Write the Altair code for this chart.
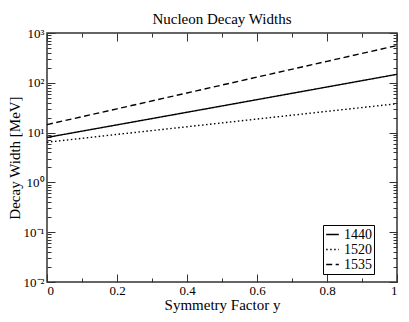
import altair as alt
import pandas as pd

# Data
sym_factor = [0.0, 0.2, 0.4, 0.6, 0.8, 1.0]
width_1440 = [8.0, 14.3, 25.6, 45.9, 82.4, 148.0]
width_1520 = [6.4, 9.2, 13.1, 18.7, 26.7, 38.0]
width_1535 = [14.5, 30.0, 62.5, 130.0, 270.0, 560.0]
series_names = ["1440", "1520", "1535"]

x_major = [0.0, 0.2, 0.4, 0.6, 0.8, 1.0]
x_minor = [0.1, 0.3, 0.5, 0.7, 0.9]
y_major = [0.01, 0.1, 1, 10, 100, 1000]
y_minor = [m * 10.0 ** k for k in range(-2, 3) for m in range(2, 10)]

rows = []
for name, vals in zip(series_names, [width_1440, width_1520, width_1535]):
    for s, v in zip(sym_factor, vals):
        rows.append({"sym": s, "width": v, "state": name})
df = pd.DataFrame(rows)

W, H = 350, 249
FONT = "Liberation Serif"
AX = "#333333"

xscale = alt.Scale(domain=[0, 1], nice=False, zero=False)
yscale = alt.Scale(type="log", domain=[0.01, 1000], nice=False)

ylabel = ("datum.value >= 999 ? '10³' : datum.value >= 99 ? '10²' : "
          "datum.value >= 9 ? '10¹' : datum.value >= 0.9 ? '10⁰' : "
          "datum.value >= 0.09 ? '10⁻¹' : '10⁻²'")

lines = alt.Chart(df).mark_line(color="black", strokeWidth=1.4).encode(
    x=alt.X("sym:Q", scale=xscale,
            axis=alt.Axis(orient="bottom", values=x_major, format="~g", tickSize=0,
                          labelFont=FONT, labelFontSize=13, labelColor="black",
                          labelPadding=2, domain=False, grid=False,
                          title="Symmetry Factor y", titleFont=FONT, titleFontSize=15,
                          titleFontWeight="normal", titleColor="black",
                          titleY=15, titleBaseline="top")),
    y=alt.Y("width:Q", scale=yscale,
            axis=alt.Axis(orient="left", values=y_major, labelExpr=ylabel, tickSize=0,
                          labelFont=FONT, labelFontSize=13, labelColor="black",
                          labelPadding=3, domain=False, grid=False,
                          title="Decay Width [MeV]", titleFont=FONT, titleFontSize=15,
                          titleFontWeight="normal", titleColor="black",
                          titleX=-25, titleBaseline="bottom")),
    strokeDash=alt.StrokeDash(
        "state:N",
        scale=alt.Scale(domain=series_names, range=[[1, 0], [1.5, 2.5], [6, 3.5]]),
        legend=alt.Legend(title=None, orient="none", legendX=W - 74, legendY=H - 57,
                          symbolType="stroke", symbolStrokeColor="black",
                          symbolStrokeWidth=1.4, symbolSize=160,
                          labelFont=FONT, labelFontSize=14, labelColor="black",
                          labelOffset=4, rowPadding=0, padding=2,
                          strokeColor="black", fillColor="white", cornerRadius=0),
    ),
)


def deco(x_orient, y_orient, xvals, yvals, size):
    return alt.Chart(df).mark_point(opacity=0).encode(
        x=alt.X("sym:Q", scale=xscale,
                axis=alt.Axis(orient=x_orient, offset=-H, values=xvals, tickSize=size,
                              tickColor=AX, tickWidth=1, labels=False, domain=False,
                              grid=False, title=None)),
        y=alt.Y("width:Q", scale=yscale,
                axis=alt.Axis(orient=y_orient, offset=-W, values=yvals, tickSize=size,
                              tickColor=AX, tickWidth=1, labels=False, domain=False,
                              grid=False, title=None)),
    )


chart = alt.layer(
    lines,
    deco("top", "right", x_major, y_major, 8),
    deco("top", "right", x_minor, y_minor, 4),
    deco("bottom", "left", x_major, y_major, 8),
    deco("bottom", "left", x_minor, y_minor, 4),
).resolve_axis(
    x="independent", y="independent"
).properties(
    width=W, height=H,
    title=alt.TitleParams("Nucleon Decay Widths", font=FONT, fontSize=15,
                          fontWeight="normal", color="black", anchor="middle", offset=0),
    autosize=alt.AutoSizeParams(type="none"),
    padding={"left": 39, "top": 25, "right": 4, "bottom": 32},
).configure(
    font=FONT
).configure_view(
    stroke=AX, strokeWidth=1.5
)

chart.save("out.html", embed_options={"renderer": "svg", "actions": False})
